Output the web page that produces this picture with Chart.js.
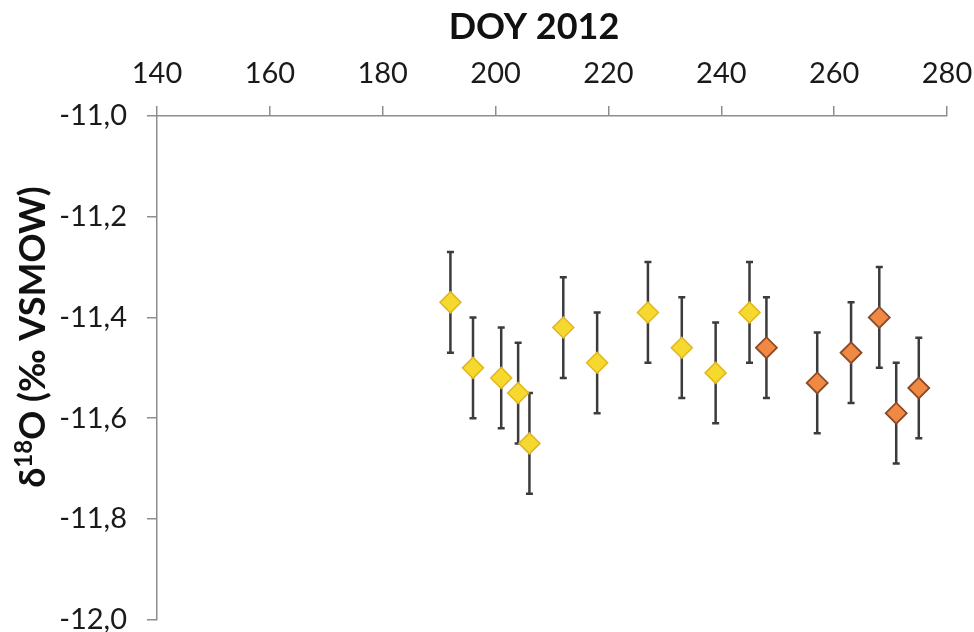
<!DOCTYPE html>
<html>
<head>
<meta charset="utf-8">
<script src="https://cdn.jsdelivr.net/npm/chart.js@4/dist/chart.umd.min.js"></script>
<style>
  html, body { margin: 0; padding: 0; background: #fff; }
  #wrap { width: 974px; height: 632px; }
</style>
</head>
<body>
<div id="wrap"><canvas id="grafico"></canvas></div>
<script>
// datos
const doyAmarillo = [192, 196, 201, 204, 206, 212, 218, 227, 233, 239, 245];
const d18oAmarillo = [-11.37, -11.50, -11.52, -11.55, -11.65, -11.42, -11.49, -11.39, -11.46, -11.51, -11.39];
const errAmarillo = [0.1, 0.1, 0.1, 0.1, 0.1, 0.1, 0.1, 0.1, 0.1, 0.1, 0.1];

const doyNaranja = [248, 257, 263, 268, 271, 275];
const d18oNaranja = [-11.46, -11.53, -11.47, -11.40, -11.59, -11.54];
const errNaranja = [0.1, 0.1, 0.1, 0.1, 0.1, 0.1];

const ticksX = [140, 160, 180, 200, 220, 240, 260, 280];
const ticksY = [-12.0, -11.8, -11.6, -11.4, -11.2, -11.0];

const tituloX = "DOY 2012";
const tituloY = ["δ", "18", "O (‰ VSMOW)"];

const puntos = (xs, ys) => xs.map((x, i) => ({ x: x, y: ys[i] }));

const fuente = "Lato, 'Open Sans', sans-serif";

// barras de error dibujadas con las escalas del grafico
const barrasError = {
  id: "barrasError",
  beforeDatasetsDraw(chart) {
    const ctx = chart.ctx;
    const sx = chart.scales.x;
    const sy = chart.scales.y;
    ctx.save();
    ctx.strokeStyle = "#3b3b3b";
    ctx.lineWidth = 2.5;
    chart.data.datasets.forEach(ds => {
      ds.data.forEach((p, i) => {
        const e = ds.errores[i];
        const px = sx.getPixelForValue(p.x);
        const top = sy.getPixelForValue(p.y + e);
        const bot = sy.getPixelForValue(p.y - e);
        ctx.beginPath();
        ctx.moveTo(px, top);
        ctx.lineTo(px, bot);
        ctx.moveTo(px - 3.5, top);
        ctx.lineTo(px + 3.5, top);
        ctx.moveTo(px - 3.5, bot);
        ctx.lineTo(px + 3.5, bot);
        ctx.stroke();
      });
    });
    ctx.restore();
  }
};

// titulos de ejes (el del eje y lleva superindice)
const titulos = {
  id: "titulos",
  afterDraw(chart) {
    const ctx = chart.ctx;
    ctx.save();
    ctx.fillStyle = "#111";
    ctx.textBaseline = "alphabetic";

    ctx.font = "bold 36px " + fuente;
    ctx.textAlign = "center";
    ctx.fillText(tituloX, 534, 39);

    const fGrande = "bold 36px " + fuente;
    const fChica = "bold 24px " + fuente;
    ctx.textAlign = "left";
    ctx.font = fGrande;
    const w0 = ctx.measureText(tituloY[0]).width;
    const w2 = ctx.measureText(tituloY[2]).width;
    ctx.font = fChica;
    const w1 = ctx.measureText(tituloY[1]).width;
    const total = w0 + w1 + w2;

    ctx.translate(32, 337);
    ctx.rotate(-Math.PI / 2);
    let x = -total / 2;
    ctx.font = fGrande;
    ctx.fillText(tituloY[0], x, 13);
    x += w0;
    ctx.font = fChica;
    ctx.fillText(tituloY[1], x, 0);
    x += w1;
    ctx.font = fGrande;
    ctx.fillText(tituloY[2], x, 13);
    ctx.restore();
  }
};

new Chart(document.getElementById("grafico"), {
  type: "scatter",
  data: {
    datasets: [
      {
        label: "amarillo",
        data: puntos(doyAmarillo, d18oAmarillo),
        errores: errAmarillo,
        pointStyle: "rectRot",
        pointRadius: 10.5,
        pointBackgroundColor: "#f6d92f",
        pointBorderColor: "#e2b61c",
        pointBorderWidth: 1.5
      },
      {
        label: "naranja",
        data: puntos(doyNaranja, d18oNaranja),
        errores: errNaranja,
        pointStyle: "rectRot",
        pointRadius: 10.5,
        pointBackgroundColor: "#f08a42",
        pointBorderColor: "#8a4a2c",
        pointBorderWidth: 1.8
      }
    ]
  },
  options: {
    responsive: true,
    maintainAspectRatio: false,
    animation: false,
    layout: { padding: 0 },
    plugins: {
      legend: { display: false },
      tooltip: { enabled: false }
    },
    scales: {
      x: {
        type: "linear",
        position: "top",
        min: 140,
        max: 280,
        afterBuildTicks: s => { s.ticks = ticksX.map(v => ({ value: v })); },
        afterFit: s => {
          s.height = 116;
          s.paddingLeft = 0;
          s.paddingRight = 27;
        },
        grid: {
          drawOnChartArea: false,
          color: "#8e8e8e",
          tickLength: 10,
          lineWidth: 1.5
        },
        border: { color: "#8e8e8e", width: 1.5 },
        ticks: {
          color: "#1a1a1a",
          font: { family: fuente, size: 29 },
          padding: 15,
          maxRotation: 0
        }
      },
      y: {
        type: "linear",
        min: -12,
        max: -11,
        afterBuildTicks: s => { s.ticks = ticksY.map(v => ({ value: v })); },
        afterFit: s => {
          s.width = 157;
          s.paddingTop = 0;
          s.paddingBottom = 12;
        },
        grid: {
          drawOnChartArea: false,
          color: "#8e8e8e",
          tickLength: 10,
          lineWidth: 1.5
        },
        border: { color: "#8e8e8e", width: 1.5 },
        ticks: {
          color: "#1a1a1a",
          font: { family: fuente, size: 29 },
          padding: 20,
          callback: v => v.toFixed(1).replace(".", ",")
        }
      }
    }
  },
  plugins: [barrasError, titulos]
});
</script>
</body>
</html>
